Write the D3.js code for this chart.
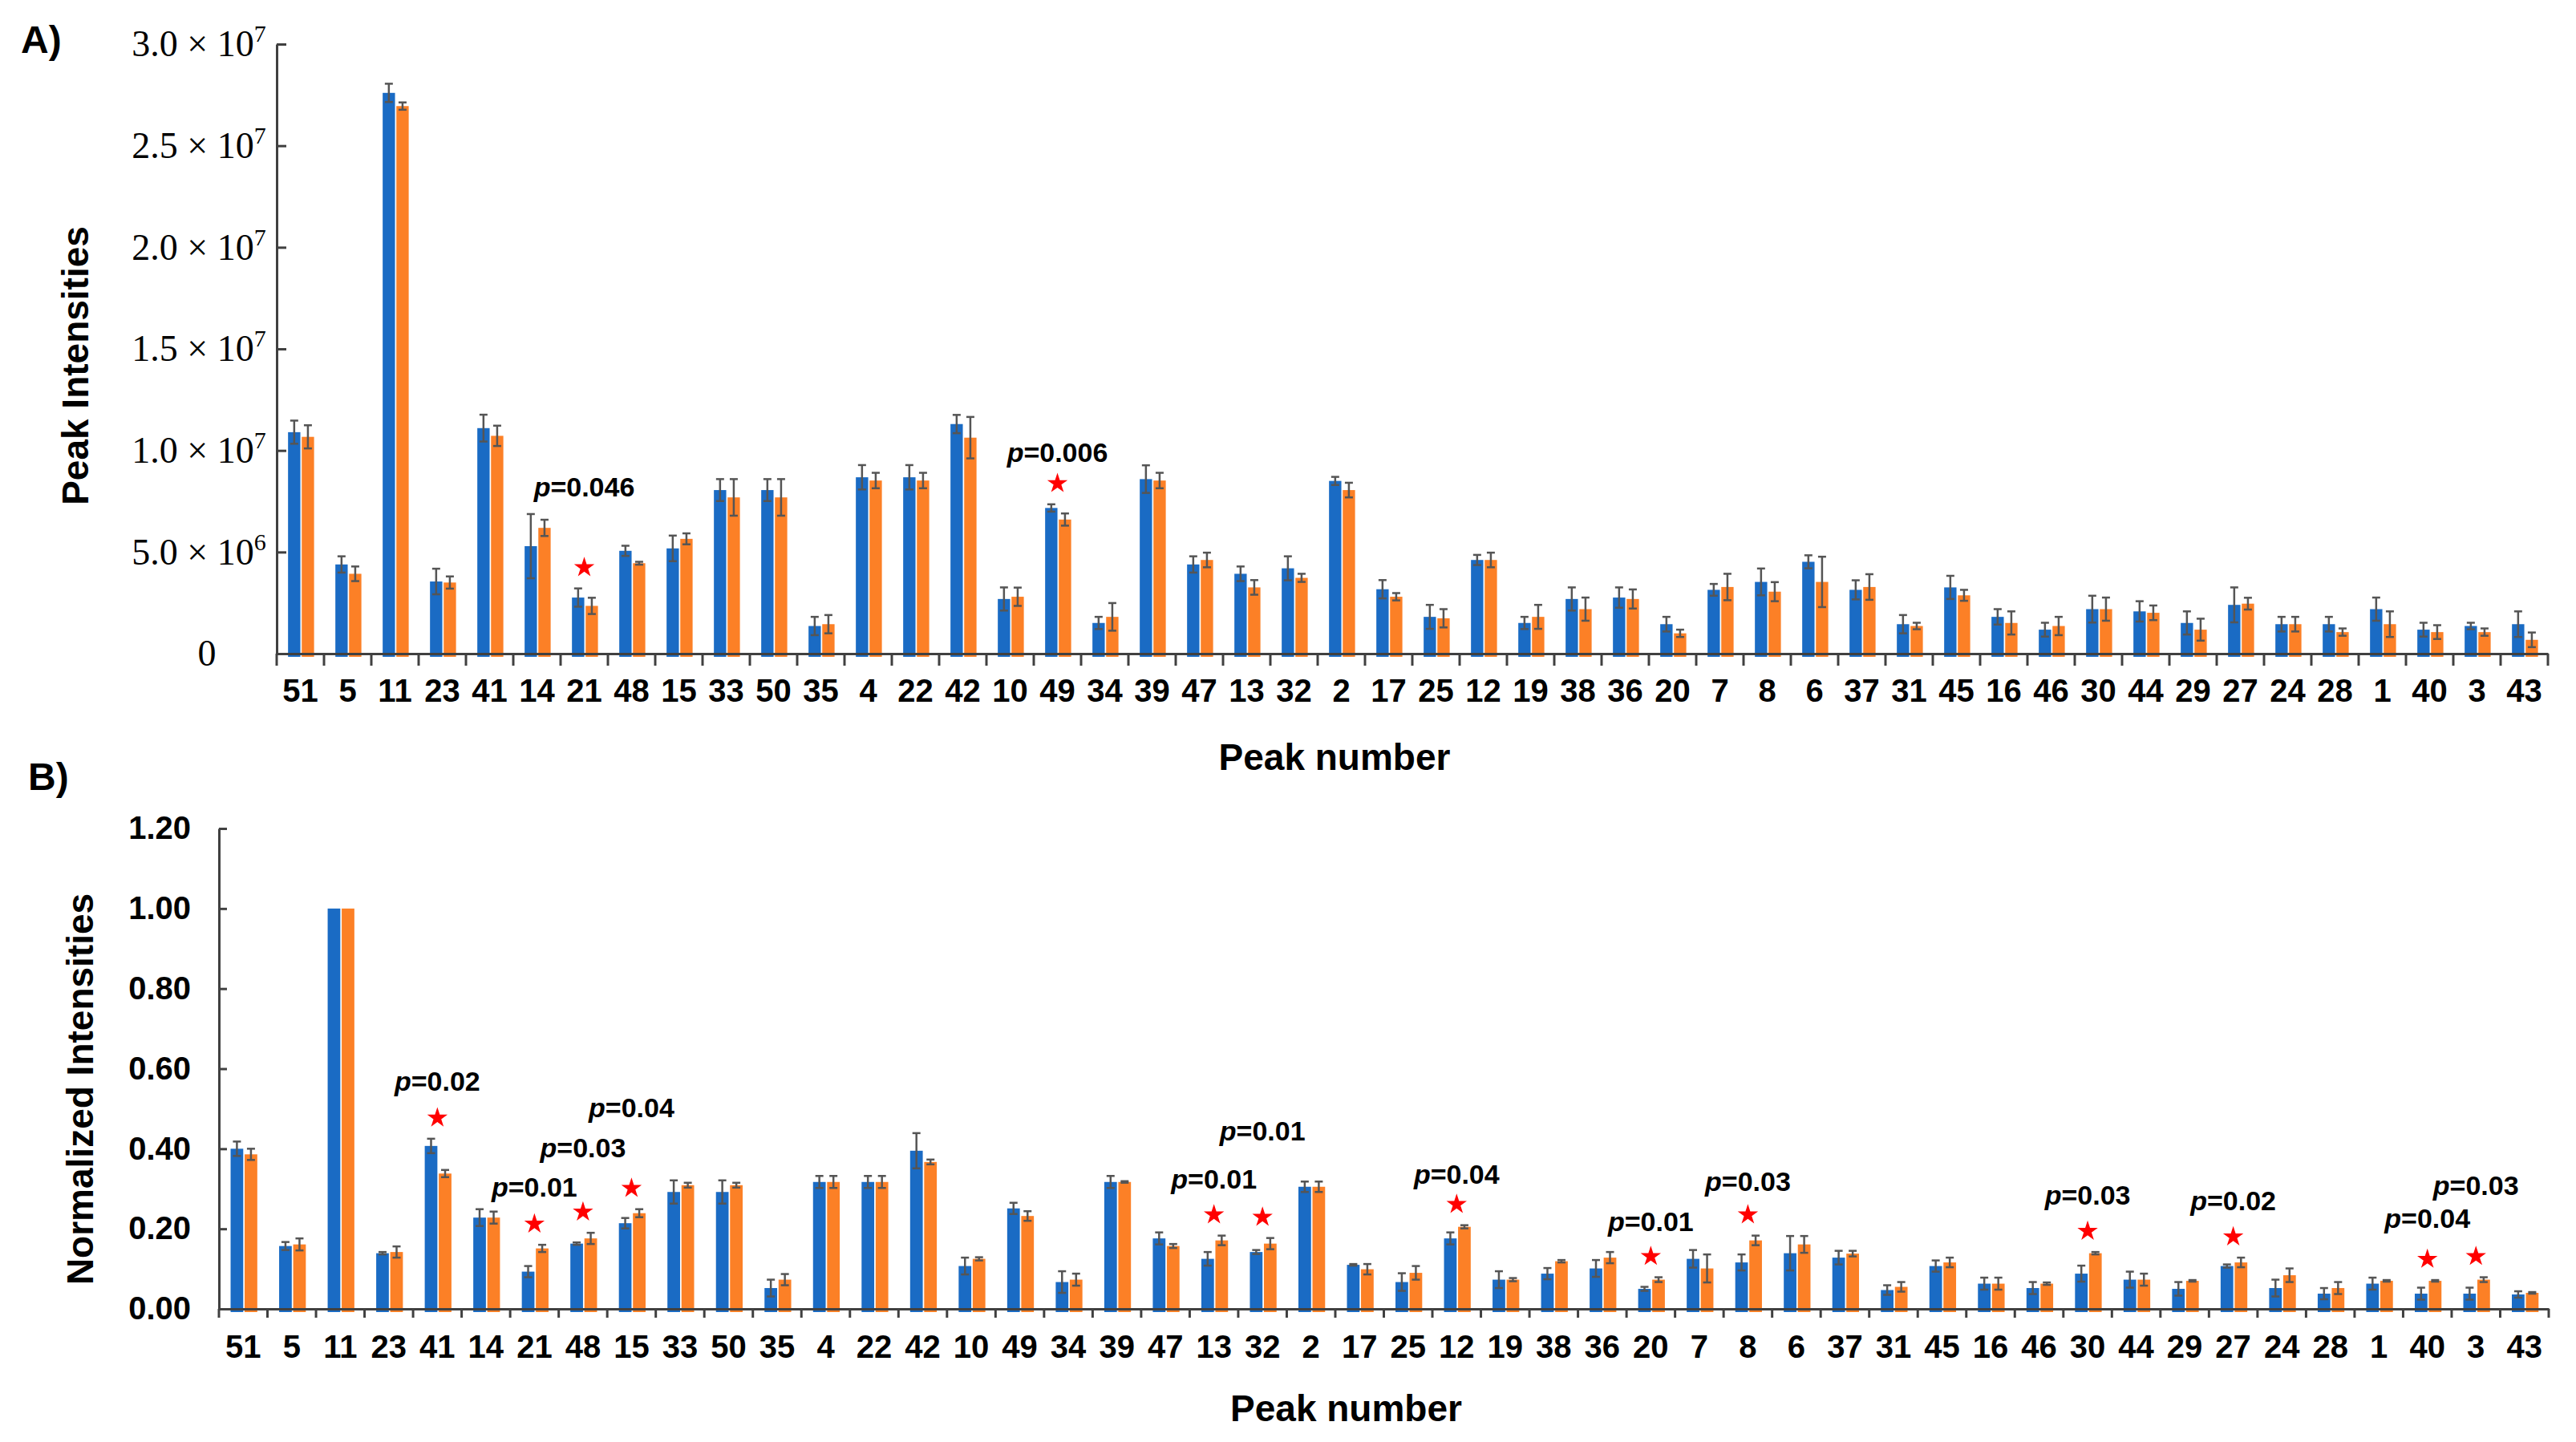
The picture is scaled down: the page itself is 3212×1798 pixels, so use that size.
<!DOCTYPE html>
<html>
<head>
<meta charset="utf-8" />
<title>Peak intensities</title>
<script src="https://d3js.org/d3.v7.min.js"></script>
<style>
  body { margin: 0; background: #fff; }
  .lbl { font-family: "Liberation Sans", Arial, sans-serif; font-weight: bold; fill: #000; }
</style>
</head>
<body>
<svg id="chart" width="3212" height="1798"></svg>
<script>
// ---- data ----
var peaks = [51,5,11,23,41,14,21,48,15,33,50,35,4,22,42,10,49,34,39,47,13,32,2,17,25,12,19,38,36,20,7,8,6,37,31,45,16,46,30,44,29,27,24,28,1,40,3,43];

// panel A, peak intensities in units of 1e6
var rawBlue = [10.9,4.39,27.6,3.55,11.1,5.29,2.76,5.06,5.18,8.05,8.05,1.36,8.68,8.68,11.3,2.69,7.17,1.51,8.59,4.39,3.93,4.2,8.5,3.17,1.81,4.61,1.51,2.69,2.76,1.45,3.14,3.53,4.52,3.14,1.45,3.26,1.81,1.18,2.19,2.08,1.51,2.4,1.45,1.45,2.19,1.18,1.36,1.45];
var rawOrange = [10.67,3.93,26.95,3.5,10.72,6.19,2.35,4.45,5.65,7.69,7.69,1.45,8.52,8.52,10.63,2.8,6.6,1.81,8.52,4.61,3.26,3.73,8.05,2.8,1.74,4.61,1.81,2.19,2.69,1.0,3.28,3.05,3.53,3.28,1.36,2.87,1.51,1.36,2.19,2.01,1.18,2.46,1.45,1.06,1.45,1.06,1.06,0.68];
var rawBlueErr = [0.57,0.4,0.45,0.63,0.66,1.58,0.45,0.25,0.63,0.54,0.54,0.45,0.6,0.6,0.45,0.57,0.18,0.3,0.68,0.4,0.36,0.59,0.2,0.45,0.59,0.25,0.3,0.57,0.5,0.36,0.29,0.66,0.32,0.47,0.45,0.57,0.38,0.34,0.66,0.5,0.57,0.86,0.36,0.36,0.57,0.34,0.16,0.63];
var rawOrangeErr = [0.57,0.36,0.18,0.3,0.5,0.4,0.4,0.07,0.27,0.9,0.9,0.45,0.38,0.38,1.02,0.45,0.3,0.68,0.38,0.36,0.36,0.2,0.36,0.18,0.45,0.36,0.59,0.57,0.47,0.18,0.65,0.47,1.24,0.63,0.16,0.27,0.57,0.45,0.57,0.36,0.54,0.29,0.36,0.18,0.63,0.34,0.18,0.36];
var rawTicks = [0,5,10,15,20,25,30];
var rawSigPeaks = [21,49];
var rawSigLabels = ["0.046","0.006"];
var rawSigLevels = [8.21,9.91];

// panel B, normalized intensities
var normBlue = [0.40,0.157,1.0,0.139,0.407,0.228,0.093,0.163,0.214,0.292,0.292,0.052,0.317,0.317,0.395,0.107,0.251,0.067,0.317,0.176,0.125,0.142,0.305,0.11,0.067,0.176,0.073,0.088,0.101,0.05,0.125,0.116,0.139,0.128,0.047,0.107,0.063,0.052,0.088,0.073,0.05,0.107,0.052,0.038,0.063,0.038,0.038,0.036];
var normOrange = [0.386,0.161,1.0,0.142,0.338,0.228,0.151,0.176,0.239,0.309,0.309,0.073,0.317,0.317,0.367,0.125,0.232,0.073,0.317,0.157,0.171,0.163,0.305,0.099,0.09,0.205,0.073,0.119,0.128,0.073,0.101,0.171,0.161,0.138,0.055,0.116,0.063,0.063,0.139,0.073,0.07,0.116,0.084,0.052,0.07,0.07,0.073,0.04];
var normBlueErr = [0.018,0.01,0,0.003,0.018,0.021,0.014,0.003,0.013,0.029,0.029,0.021,0.015,0.015,0.044,0.021,0.014,0.027,0.015,0.015,0.017,0.005,0.013,0.002,0.022,0.015,0.021,0.014,0.021,0.005,0.022,0.02,0.043,0.017,0.012,0.014,0.015,0.015,0.02,0.02,0.017,0.004,0.021,0.014,0.015,0.015,0.015,0.008];
var normOrangeErr = [0.014,0.015,0,0.014,0.009,0.015,0.009,0.014,0.01,0.006,0.006,0.014,0.015,0.015,0.006,0.004,0.012,0.015,0.002,0.005,0.012,0.014,0.013,0.013,0.017,0.004,0.004,0.003,0.014,0.006,0.035,0.012,0.021,0.007,0.012,0.012,0.015,0.003,0.003,0.015,0.002,0.012,0.017,0.015,0.002,0.002,0.006,0.002];
var normTicks = [0,0.2,0.4,0.6,0.8,1.0,1.2];
var normSigPeaks = [41,21,48,15,13,32,12,20,8,30,27,40,3];
var normSigLabels = ["0.02","0.01","0.03","0.04","0.01","0.01","0.04","0.01","0.03","0.03","0.02","0.04","0.03"];
var normSigLevels = [0.569,0.305,0.403,0.503,0.325,0.445,0.337,0.218,0.319,0.285,0.271,0.226,0.309];

var BLUE = "#1a6bc4", ORANGE = "#fc8026", AXIS = "#404040", ERR = "#555";

var svg = d3.select("#chart");

function drawPanel(o) {
    var g = svg.append("g");
    var x = d3.scaleBand().domain(peaks).range([o.left, o.right]).padding(0);
    var sub = d3.scaleBand().domain([0, 1])
        .range([0.24 * x.bandwidth(), 0.79 * x.bandwidth()]).paddingInner(0.1);
    var y = d3.scaleLinear().domain([0, o.ticks[o.ticks.length - 1]]).range([o.bottom, o.top]);

    var rows = peaks.map(function(p, i) {
        return {peak: p, vals: [
            {s: 0, v: o.blue[i], e: o.blueErr[i], c: BLUE},
            {s: 1, v: o.orange[i], e: o.orangeErr[i], c: ORANGE}
        ]};
    });

    var grp = g.selectAll(".grp").data(rows).enter().append("g")
        .attr("transform", function(d) { return "translate(" + x(d.peak) + ",0)"; });

    grp.selectAll("rect").data(function(d) { return d.vals; }).enter().append("rect")
        .attr("x", function(d) { return sub(d.s); })
        .attr("width", sub.bandwidth())
        .attr("y", function(d) { return y(d.v); })
        .attr("height", function(d) { return y(0) - y(d.v) + 4; })
        .attr("fill", function(d) { return d.c; });

    // error bars
    var eb = grp.selectAll(".eb").data(function(d) { return d.vals.filter(function(v) { return v.e > 0; }); })
        .enter().append("g").attr("stroke", ERR).attr("stroke-width", 2.5);
    eb.append("line")
        .attr("x1", function(d) { return sub(d.s) + sub.bandwidth() / 2; })
        .attr("x2", function(d) { return sub(d.s) + sub.bandwidth() / 2; })
        .attr("y1", function(d) { return y(d.v - d.e); })
        .attr("y2", function(d) { return y(d.v + d.e); });
    [1, -1].forEach(function(k) {
        eb.append("line")
            .attr("x1", function(d) { return sub(d.s) + sub.bandwidth() / 2 - 5; })
            .attr("x2", function(d) { return sub(d.s) + sub.bandwidth() / 2 + 5; })
            .attr("y1", function(d) { return y(d.v + k * d.e); })
            .attr("y2", function(d) { return y(d.v + k * d.e); });
    });

    // y axis
    var ya = g.append("g").attr("transform", "translate(" + o.left + ",0)")
        .call(d3.axisLeft(y).tickValues(o.ticks).tickSizeInner(-o.tick).tickSizeOuter(0).tickFormat(o.fmt));
    ya.selectAll("path,line").attr("stroke", AXIS).attr("stroke-width", 3);
    o.styleY(ya.selectAll(".tick text"));

    // x axis with ticks on category boundaries
    var xa = g.append("g").attr("transform", "translate(0," + o.bottom + ")")
        .call(d3.axisBottom(x).tickSize(0).tickPadding(o.xPad));
    xa.select(".domain").attr("stroke", AXIS).attr("stroke-width", 3);
    xa.selectAll(".tick text").attr("class", "lbl").attr("font-size", 40);
    var bounds = peaks.map(function(p) { return x(p); }).concat([x.range()[1]]);
    xa.selectAll(".bnd").data(bounds).enter().append("line")
        .attr("x1", function(d) { return d; }).attr("x2", function(d) { return d; })
        .attr("y1", 0).attr("y2", o.xTick)
        .attr("stroke", AXIS).attr("stroke-width", 3);

    // significance marks
    o.sigPeaks.forEach(function(p, j) {
        var i = peaks.indexOf(p);
        var cx = x(p) + x.bandwidth() / 2;
        var top = Math.max(o.blue[i] + o.blueErr[i], o.orange[i] + o.orangeErr[i]);
        g.append("path")
            .attr("d", d3.symbol().type(d3.symbolStar).size(200)())
            .attr("transform", "translate(" + cx + "," + (y(top) - 26) + ")")
            .attr("fill", "#ff0000");
        var t = g.append("text").attr("class", "lbl").attr("font-size", 34)
            .attr("text-anchor", "middle")
            .attr("x", cx).attr("y", y(o.sigLevels[j]) + 12);
        t.append("tspan").attr("font-style", "italic").text("p");
        t.append("tspan").text("=" + o.sigLabels[j]);
    });

    svg.append("text").attr("class", "lbl").attr("font-size", 46)
        .attr("text-anchor", "middle")
        .attr("x", (o.left + o.right) / 2 + o.titleDx).attr("y", o.titleY)
        .text("Peak number");
    svg.append("text").attr("class", "lbl").attr("font-size", 46)
        .attr("text-anchor", "middle").attr("dominant-baseline", "central")
        .attr("transform", "translate(" + o.yTitleX + "," + o.yTitleY + ") rotate(-90)")
        .text(o.yTitle);
    svg.append("text").attr("class", "lbl").attr("font-size", 48)
        .attr("x", o.tagX).attr("y", o.tagY).text(o.tag);
}

drawPanel({
    blue: rawBlue, orange: rawOrange, blueErr: rawBlueErr, orangeErr: rawOrangeErr,
    ticks: rawTicks, sigPeaks: rawSigPeaks, sigLabels: rawSigLabels, sigLevels: rawSigLevels,
    left: 345, right: 3177, top: 55, bottom: 815, tick: 12, xTick: 15, xPad: 32,
    fmt: function(d) { return d; },
    styleY: function(sel) {
        sel.each(function(d) {
            var t = d3.select(this).text("")
                .attr("font-family", "'Liberation Serif', 'Times New Roman', serif")
                .attr("font-size", 46).attr("fill", "#000")
                .attr("text-anchor", "middle").attr("x", d === 0 ? -87 : -97);
            if (d === 0) { t.text("0"); return; }
            var e = Math.floor(Math.log10(d * 1e6));
            t.append("tspan").text((d * 1e6 / Math.pow(10, e)).toFixed(1) + " \u00d7 10");
            t.append("tspan").attr("font-size", 30).attr("dy", -18).text(e);
        });
    },
    titleDx: -97, titleY: 960,
    yTitle: "Peak Intensities", yTitleX: 94, yTitleY: 456,
    tag: "A)", tagX: 26, tagY: 66
});

drawPanel({
    blue: normBlue, orange: normOrange, blueErr: normBlueErr, orangeErr: normOrangeErr,
    ticks: normTicks, sigPeaks: normSigPeaks, sigLabels: normSigLabels, sigLevels: normSigLevels,
    left: 273, right: 3178, top: 1033, bottom: 1632, tick: 10, xTick: 11, xPad: 33,
    fmt: d3.format(".2f"),
    styleY: function(sel) {
        sel.attr("class", "lbl").attr("font-size", 40).attr("x", -35);
    },
    titleDx: -47, titleY: 1772,
    yTitle: "Normalized Intensities", yTitleX: 100, yTitleY: 1358,
    tag: "B)", tagX: 35, tagY: 985
});
</script>
</body>
</html>
